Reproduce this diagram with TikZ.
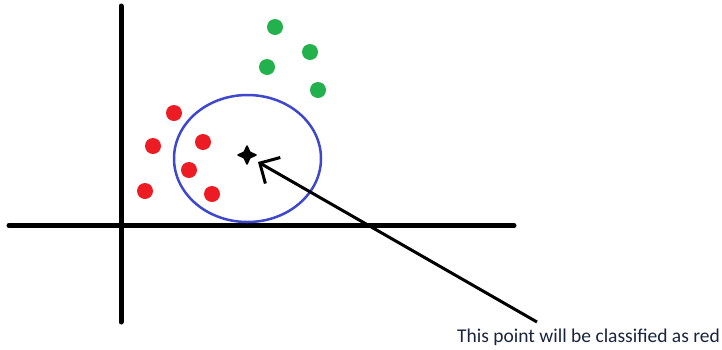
\documentclass[tikz,border=0pt]{standalone}
\usepackage{fontspec}
\setmainfont{Carlito}
\usepackage{xcolor}
\usepackage{tikz}
\usetikzlibrary{arrows.meta,positioning,shapes.geometric}

\definecolor{paintred}{RGB}{237,28,36}
\definecolor{paintgreen}{RGB}{34,177,76}
\definecolor{paintblue}{RGB}{63,72,204}
\definecolor{labelink}{RGB}{25,35,60}

\begin{document}
\begin{tikzpicture}[
      x=1pt, y=-1pt,
      axis/.style={line width=5pt, line cap=round},
      reddot/.style={circle, fill=paintred, minimum size=16pt, inner sep=0pt},
      greendot/.style={circle, fill=paintgreen, minimum size=16pt, inner sep=0pt},
      nbhd/.style={ellipse, draw=paintblue, line width=2.5pt, minimum width=147pt, minimum height=127pt, inner sep=0pt},
      query/.style={star, star points=4, star point ratio=2.2, fill=black, draw=black, line width=1.5pt, line join=round, minimum size=18pt, inner sep=0pt},
      arrow/.style={-{Straight Barb[length=15pt,width=30pt]}, line width=3pt},
      small/.style={font=\fontsize{19.5}{22}\selectfont, text=labelink}
    ]
    \useasboundingbox (0,0) rectangle (722,349);

    % axes
    \coordinate (xl) at (9,225.5);
    \coordinate (xr) at (514,225.5);
    \coordinate (yt) at (121,6);
    \coordinate (yb) at (121,322);
    \draw[axis] (xl) -- (xr);
    \draw[axis] (yt) -- (yb);

    % neighbourhood of the query point
    \node[nbhd] (circ) at (247.5,158.5) {};

    % red class
    \node[reddot] (r1) at (174,113) {};
    \node[reddot] (r2) at (153,146) {};
    \node[reddot] (r3) at (203,142) {};
    \node[reddot] (r4) at (189,170) {};
    \node[reddot] (r5) at (145,191) {};
    \node[reddot] (r6) at (212,194) {};

    % green class
    \node[greendot] (g1) at (275,27) {};
    \node[greendot] (g2) at (310,52) {};
    \node[greendot] (g3) at (267,67) {};
    \node[greendot] (g4) at (318,90) {};

    % new point
    \node[query] (pt) at (247,155) {};

    \node[small, anchor=base west, inner sep=0pt] (label) at (457,342) {This point will be classified as red};
    \coordinate (tail) at (537,322);
    \draw[arrow] (tail) -- (258,162);
  \end{tikzpicture}
\end{document}
